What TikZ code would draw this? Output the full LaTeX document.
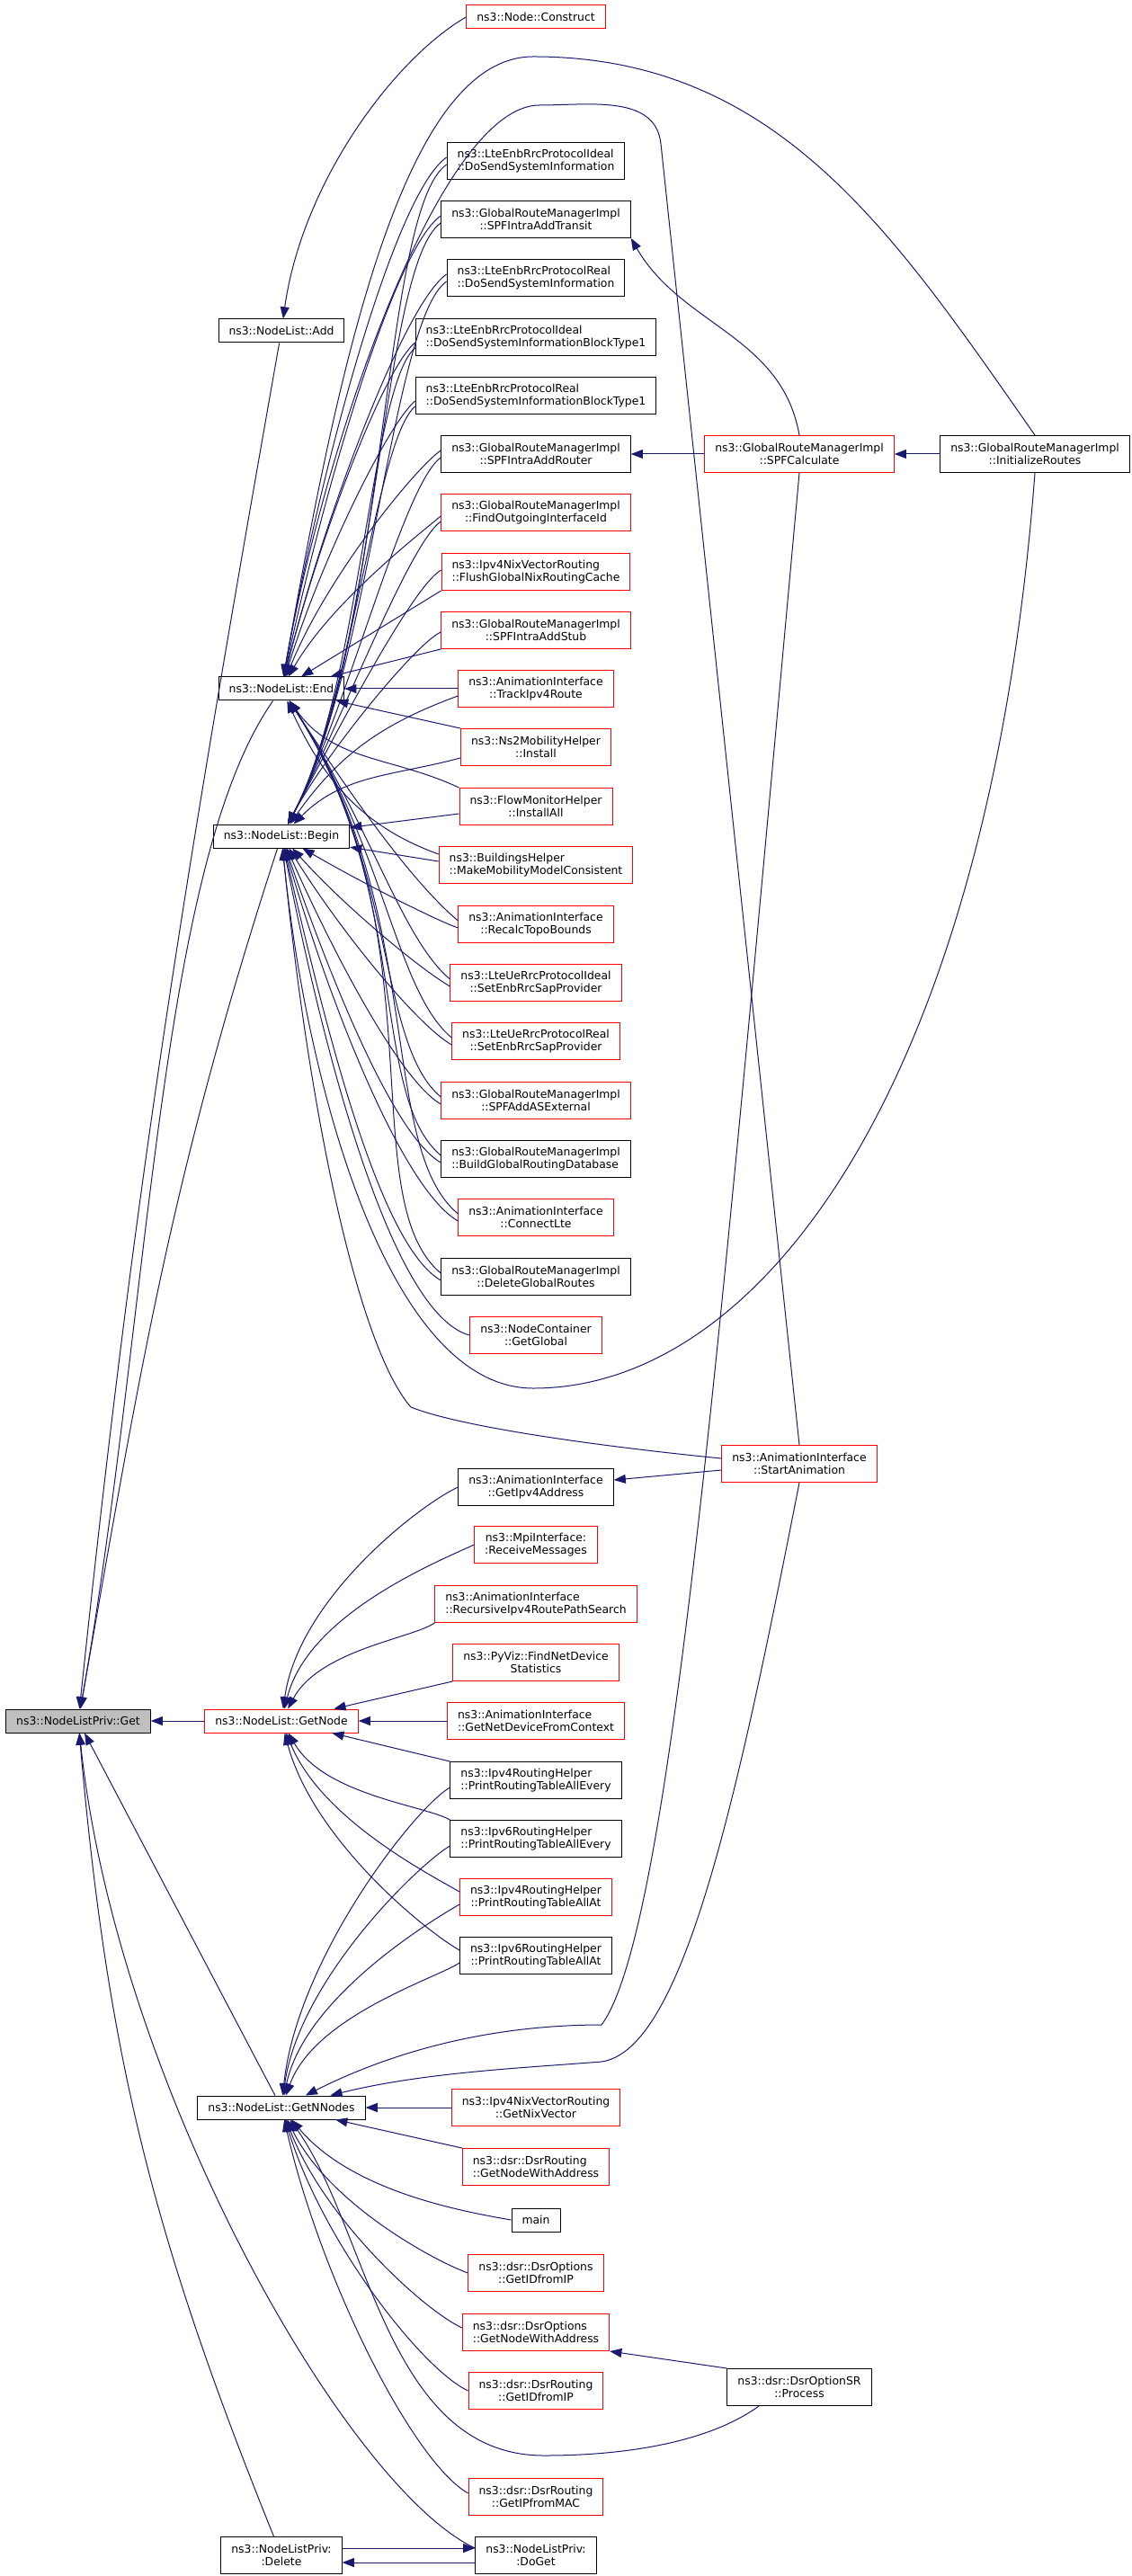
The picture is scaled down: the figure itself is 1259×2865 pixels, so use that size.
\documentclass[tikz,border=0pt]{standalone}
\usepackage{fontspec}
\setmainfont{DejaVu Sans}
\usetikzlibrary{arrows.meta}
\definecolor{callblue}{RGB}{25,25,112}
\definecolor{rootgray}{RGB}{191,191,191}
\begin{document}
\begin{tikzpicture}[
        x=0.25pt, y=0.25pt,
        >={Triangle[length=3.3pt,width=2.5pt]},
        fn/.style={draw=black, fill=white, line width=0.25pt, align=center,
            font=\fontsize{3.1}{3.625}\selectfont,
            inner xsep=2.875pt, inner ysep=0pt, minimum height=10.25pt},
        fnred/.style={fn, draw=red},
        one/.style={minimum height=6.5pt},
        lft/.style={align=left},
        root/.style={fn, one, fill=rootgray},
        callarrow/.style={->, draw=callblue, line width=0.25pt}
    ]

    % 画布
    \path[use as bounding box] (0,0) rectangle (1259,-2865);

    % 左列
    \node[root] (get) at (87,-1914) {ns3::NodeListPriv::Get};
    \node[fn, one] (add) at (313,-368) {ns3::NodeList::Add};
    \node[fn, one] (lend) at (313,-766) {ns3::NodeList::End};
    \node[fn, one] (lbegin) at (313,-930) {ns3::NodeList::Begin};
    \node[fnred, one] (getnode) at (313,-1914) {ns3::NodeList::GetNode};
    \node[fn, one] (getnnodes) at (313,-2344) {ns3::NodeList::GetNNodes};
    \node[fn] (pdel) at (313,-2842) {ns3::NodeListPriv:\\:Delete};

    % 中列
    \node[fnred, one] (construct) at (596,-19) {ns3::Node::Construct};
    \node[fn, lft] (ideal) at (596,-179) {ns3::LteEnbRrcProtocolIdeal\\::DoSendSystemInformation};
    \node[fn] (transit) at (596,-244) {ns3::GlobalRouteManagerImpl\\::SPFIntraAddTransit};
    \node[fn, lft] (real) at (596,-309) {ns3::LteEnbRrcProtocolReal\\::DoSendSystemInformation};
    \node[fn, lft] (idealb) at (596,-375) {ns3::LteEnbRrcProtocolIdeal\\::DoSendSystemInformationBlockType1};
    \node[fn, lft] (realb) at (596,-440) {ns3::LteEnbRrcProtocolReal\\::DoSendSystemInformationBlockType1};
    \node[fn] (router) at (596,-505) {ns3::GlobalRouteManagerImpl\\::SPFIntraAddRouter};
    \node[fnred] (findout) at (596,-570) {ns3::GlobalRouteManagerImpl\\::FindOutgoingInterfaceId};
    \node[fnred, lft] (flush) at (596,-636) {ns3::Ipv4NixVectorRouting\\::FlushGlobalNixRoutingCache};
    \node[fnred] (stub) at (596,-701) {ns3::GlobalRouteManagerImpl\\::SPFIntraAddStub};
    \node[fnred] (track) at (596,-766) {ns3::AnimationInterface\\::TrackIpv4Route};
    \node[fnred] (nsinst) at (596,-831) {ns3::Ns2MobilityHelper\\::Install};
    \node[fnred] (flowall) at (596,-897) {ns3::FlowMonitorHelper\\::InstallAll};
    \node[fnred, lft] (bldg) at (596,-962) {ns3::BuildingsHelper\\::MakeMobilityModelConsistent};
    \node[fnred] (recalc) at (596,-1028) {ns3::AnimationInterface\\::RecalcTopoBounds};
    \node[fnred] (ueideal) at (596,-1093) {ns3::LteUeRrcProtocolIdeal\\::SetEnbRrcSapProvider};
    \node[fnred] (uereal) at (596,-1158) {ns3::LteUeRrcProtocolReal\\::SetEnbRrcSapProvider};
    \node[fnred] (asext) at (596,-1224) {ns3::GlobalRouteManagerImpl\\::SPFAddASExternal};
    \node[fn, lft] (build) at (596,-1289) {ns3::GlobalRouteManagerImpl\\::BuildGlobalRoutingDatabase};
    \node[fnred] (connlte) at (596,-1354) {ns3::AnimationInterface\\::ConnectLte};
    \node[fn] (delgr) at (596,-1420) {ns3::GlobalRouteManagerImpl\\::DeleteGlobalRoutes};
    \node[fnred] (getglobal) at (596,-1485) {ns3::NodeContainer\\::GetGlobal};
    \node[fn] (getip4) at (596,-1654) {ns3::AnimationInterface\\::GetIpv4Address};
    \node[fnred] (mpi) at (596,-1718) {ns3::MpiInterface:\\:ReceiveMessages};
    \node[fnred, lft] (recurs) at (596,-1784) {ns3::AnimationInterface\\::RecursiveIpv4RoutePathSearch};
    \node[fnred] (pyviz) at (596,-1849) {ns3::PyViz::FindNetDevice\\Statistics};
    \node[fnred, lft] (getnetdev) at (596,-1914) {ns3::AnimationInterface\\::GetNetDeviceFromContext};
    \node[fn, lft] (v4every) at (596,-1980) {ns3::Ipv4RoutingHelper\\::PrintRoutingTableAllEvery};
    \node[fn, lft] (v6every) at (596,-2045) {ns3::Ipv6RoutingHelper\\::PrintRoutingTableAllEvery};
    \node[fnred] (v4at) at (596,-2110) {ns3::Ipv4RoutingHelper\\::PrintRoutingTableAllAt};
    \node[fn] (v6at) at (596,-2175) {ns3::Ipv6RoutingHelper\\::PrintRoutingTableAllAt};
    \node[fnred] (nixvec) at (596,-2344) {ns3::Ipv4NixVectorRouting\\::GetNixVector};
    \node[fnred, lft] (dsrgnwa) at (596,-2410) {ns3::dsr::DsrRouting\\::GetNodeWithAddress};
    \node[fn, one] (mainn) at (596,-2469) {main};
    \node[fnred] (optid) at (596,-2528) {ns3::dsr::DsrOptions\\::GetIDfromIP};
    \node[fnred, lft] (optgnwa) at (596,-2594) {ns3::dsr::DsrOptions\\::GetNodeWithAddress};
    \node[fnred] (dsrid) at (596,-2659) {ns3::dsr::DsrRouting\\::GetIDfromIP};
    \node[fnred] (ipfrommac) at (596,-2777) {ns3::dsr::DsrRouting\\::GetIPfromMAC};
    \node[fn] (doget) at (596,-2842) {ns3::NodeListPriv:\\:DoGet};

    % 右列
    \node[fnred] (spfcalc) at (889,-505) {ns3::GlobalRouteManagerImpl\\::SPFCalculate};
    \node[fn] (initr) at (1151,-505) {ns3::GlobalRouteManagerImpl\\::InitializeRoutes};
    \node[fnred] (startanim) at (889,-1628) {ns3::AnimationInterface\\::StartAnimation};
    \node[fn] (process) at (889,-2655) {ns3::dsr::DsrOptionSR\\::Process};

    % 弧线的拐点
    \coordinate (arcA) at (593,-63);
    \coordinate (arcB) at (600,-117);
    \coordinate (arcBr) at (735,-160);
    \coordinate (uA) at (593,-1544);
    \coordinate (uB) at (457,-1565);
    \coordinate (scA) at (669,-2252);
    \coordinate (saA) at (669,-2293);
    \coordinate (prA) at (605,-2731);

    % 指向 Get 的箭头
    \draw[callarrow] (add) to[out=-100, in=84] (get);
    \draw[callarrow] (lend) to[out=-125, in=80, out looseness=0.5] (get);
    \draw[callarrow] (lbegin) to[out=-108, in=80] (get);
    \draw[callarrow] (getnode) -- (get);
    \draw[callarrow] (getnnodes) -- (get);
    \draw[callarrow] (pdel) to[out=112, in=-85] (get);
    \draw[callarrow] ([yshift=2pt]doget.west) to[out=155, in=-84, out looseness=0.4] (get);
    \draw[callarrow] ([yshift=2pt]pdel.east) -- ([yshift=2pt]doget.west);
    \draw[callarrow] ([yshift=-2pt]doget.west) -- ([yshift=-2pt]pdel.east);

    % Add
    \draw[callarrow] (construct.west) to[out=210, in=82, out looseness=0.6] (add);

    % End 与 Begin(上方的调用者)
    \draw[callarrow] ([yshift=1pt]ideal.west) to[out=215, in=80, out looseness=0.3] (lend);
    \draw[callarrow] ([yshift=-1pt]ideal.west) to[out=215, in=62, out looseness=0.3, in looseness=0.8] (lbegin);
    \draw[callarrow] ([yshift=1pt]transit.west) to[out=215, in=78, out looseness=0.3] (lend);
    \draw[callarrow] ([yshift=-1pt]transit.west) to[out=215, in=62, out looseness=0.3, in looseness=0.8] (lbegin);
    \draw[callarrow] ([yshift=1pt]real.west) to[out=215, in=76, out looseness=0.3] (lend);
    \draw[callarrow] ([yshift=-1pt]real.west) to[out=215, in=62, out looseness=0.3, in looseness=0.8] (lbegin);
    \draw[callarrow] ([yshift=-1.5pt]idealb.west) to[out=220, in=76, out looseness=0.3] (lend);
    \draw[callarrow] ([yshift=-3pt]idealb.west) to[out=220, in=62, out looseness=0.3, in looseness=0.8] (lbegin);
    \draw[callarrow] ([yshift=-1.5pt]realb.west) to[out=220, in=73, out looseness=0.3] (lend);
    \draw[callarrow] ([yshift=-3pt]realb.west) to[out=220, in=62, out looseness=0.3, in looseness=0.8] (lbegin);
    \draw[callarrow] ([yshift=1pt]router.west) to[out=215, in=68, out looseness=0.3] (lend);
    \draw[callarrow] ([yshift=-1pt]router.west) to[out=215, in=62, out looseness=0.3, in looseness=0.8] (lbegin);
    \draw[callarrow] ([yshift=-1pt]findout.west) to[out=220, in=60, out looseness=0.3] (lend);
    \draw[callarrow] ([yshift=-2.5pt]findout.west) to[out=215, in=62, out looseness=0.3, in looseness=0.8] (lbegin);
    \draw[callarrow] (flush.south west) -- (lend);
    \draw[callarrow] ([yshift=0.5pt]flush.west) to[out=210, in=62, out looseness=0.3, in looseness=0.8] (lbegin);
    \draw[callarrow] (stub.south west) -- (lend);
    \draw[callarrow] ([yshift=-0.5pt]stub.west) to[out=205, in=62, out looseness=0.3, in looseness=0.8] (lbegin);

    % End 与 Begin(中间的调用者)
    \draw[callarrow] (track) -- (lend);
    \draw[callarrow] ([yshift=-2pt]track.west) to[out=200, in=55] (lbegin);
    \draw[callarrow] (nsinst.north west) -- (lend);
    \draw[callarrow] ([yshift=-3pt]nsinst.west) to[out=195, in=45] (lbegin);
    \draw[callarrow] (flowall.north west) to[out=155, in=-55] (lend);
    \draw[callarrow] ([yshift=-2pt]flowall.west) -- (lbegin);
    \draw[callarrow] ([yshift=3pt]bldg.west) to[out=160, in=-65] (lend);
    \draw[callarrow] ([yshift=1pt]bldg.west) -- (lbegin);

    % End 与 Begin(下方的调用者)
    \draw[callarrow] ([yshift=1pt]recalc.west) to[out=140, in=-57, out looseness=0.5, in looseness=1.2] (lend);
    \draw[callarrow] ([yshift=-1pt]recalc.west) to[out=160, in=-30, out looseness=0.4] (lbegin);
    \draw[callarrow] ([yshift=1pt]ueideal.west) to[out=140, in=-57, out looseness=0.5, in looseness=1.2] (lend);
    \draw[callarrow] ([yshift=-1pt]ueideal.west) to[out=150, in=-48, out looseness=0.4] (lbegin);
    \draw[callarrow] ([yshift=1pt]uereal.west) to[out=140, in=-57, out looseness=0.5, in looseness=1.2] (lend);
    \draw[callarrow] ([yshift=-1pt]uereal.west) to[out=150, in=-58, out looseness=0.4] (lbegin);
    \draw[callarrow] ([yshift=1pt]asext.west) to[out=140, in=-57, out looseness=0.5, in looseness=1.2] (lend);
    \draw[callarrow] ([yshift=-1pt]asext.west) to[out=150, in=-66, out looseness=0.4] (lbegin);
    \draw[callarrow] ([yshift=1pt]build.west) to[out=140, in=-57, out looseness=0.5, in looseness=1.2] (lend);
    \draw[callarrow] ([yshift=-1pt]build.west) to[out=150, in=-71, out looseness=0.4] (lbegin);
    \draw[callarrow] ([yshift=1pt]connlte.west) to[out=140, in=-57, out looseness=0.5, in looseness=1.2] (lend);
    \draw[callarrow] ([yshift=-1pt]connlte.west) to[out=150, in=-74, out looseness=0.4] (lbegin);
    \draw[callarrow] ([yshift=1pt]delgr.west) to[out=140, in=-57, out looseness=0.5, in looseness=1.2] (lend);
    \draw[callarrow] ([yshift=-1pt]delgr.west) to[out=150, in=-77, out looseness=0.4] (lbegin);
    \draw[callarrow] (getglobal.west) to[out=165, in=-79, out looseness=0.4] (lbegin);

    % 右侧 GlobalRouteManagerImpl
    \draw[callarrow] (initr) -- (spfcalc);
    \draw[callarrow] (spfcalc) -- (router);
    \draw[callarrow] (spfcalc.north) to[out=100, in=-60] (transit.south east);
    \draw[callarrow] (initr.north) to[out=125, in=0] (arcA)
        to[out=180, in=80, out looseness=0.5, in looseness=1.2] (lend);
    \draw[callarrow] (initr.south) .. controls (1100,-1200) and (850,-1544) .. (uA)
        .. controls (430,-1544) and (340,-1200) .. (lbegin);
    \draw[callarrow] (spfcalc.south) .. controls (800,-1500) and (745,-2150) .. (scA)
        .. controls (560,-2252) and (450,-2275) .. (getnnodes);

    % StartAnimation
    \draw[callarrow] (startanim.north) -- (arcBr) to[out=96, in=0] (arcB)
        to[out=180, in=80, out looseness=0.4] (lend);
    \draw[callarrow] ([yshift=1.5pt]startanim.west) .. controls (700,-1612) and (520,-1590) .. (uB)
        .. controls (400,-1500) and (345,-1250) .. (lbegin);
    \draw[callarrow] ([yshift=-1.75pt]startanim.west) -- (getip4);
    \draw[callarrow] (startanim.south) .. controls (820,-2000) and (760,-2280) .. (saA)
        .. controls (580,-2300) and (470,-2305) .. (getnnodes);

    % GetNode
    \draw[callarrow] (getip4.west) to[out=205, in=82, out looseness=0.4] (getnode);
    \draw[callarrow] (mpi.west) to[out=205, in=76, out looseness=0.4] (getnode);
    \draw[callarrow] (recurs.south west) to[out=215, in=62, out looseness=0.4] (getnode);
    \draw[callarrow] (pyviz.south west) -- (getnode);
    \draw[callarrow] (getnetdev) -- (getnode);
    \draw[callarrow] (v4every.north west) -- (getnode);
    \draw[callarrow] (v6every.north west) to[out=150, in=-60, out looseness=0.4] (getnode);
    \draw[callarrow] ([yshift=1.5pt]v4at.west) to[out=150, in=-68, out looseness=0.4] (getnode);
    \draw[callarrow] ([yshift=1.5pt]v6at.west) to[out=150, in=-75, out looseness=0.4] (getnode);

    % GetNNodes
    \draw[callarrow] ([yshift=-2pt]v4every.west) to[out=210, in=84, out looseness=0.3] (getnnodes);
    \draw[callarrow] ([yshift=-2pt]v6every.west) to[out=210, in=82, out looseness=0.3] (getnnodes);
    \draw[callarrow] ([yshift=-2pt]v4at.west) to[out=210, in=78, out looseness=0.3] (getnnodes);
    \draw[callarrow] ([yshift=-2pt]v6at.west) to[out=215, in=70, out looseness=0.3] (getnnodes);
    \draw[callarrow] (nixvec) -- (getnnodes);
    \draw[callarrow] (dsrgnwa.north west) -- (getnnodes);
    \draw[callarrow] (mainn.west) to[out=170, in=-50, out looseness=0.5] (getnnodes);
    \draw[callarrow] (optid.west) to[out=160, in=-64, out looseness=0.4] (getnnodes);
    \draw[callarrow] ([yshift=1.25pt]optgnwa.west) to[out=155, in=-69, out looseness=0.4] (getnnodes);
    \draw[callarrow] (dsrid.west) to[out=155, in=-73, out looseness=0.4] (getnnodes);
    \draw[callarrow] ([yshift=1pt]ipfrommac.west) to[out=150, in=-77, out looseness=0.4] (getnnodes);

    % DsrOptionSR::Process
    \draw[callarrow] (process.north west) -- (optgnwa.south east);
    \draw[callarrow] ([xshift=-11.25pt]process.south) .. controls (790,-2715) and (700,-2731) .. (prA)
        .. controls (430,-2731) and (410,-2480) .. (getnnodes);

\end{tikzpicture}
\end{document}
